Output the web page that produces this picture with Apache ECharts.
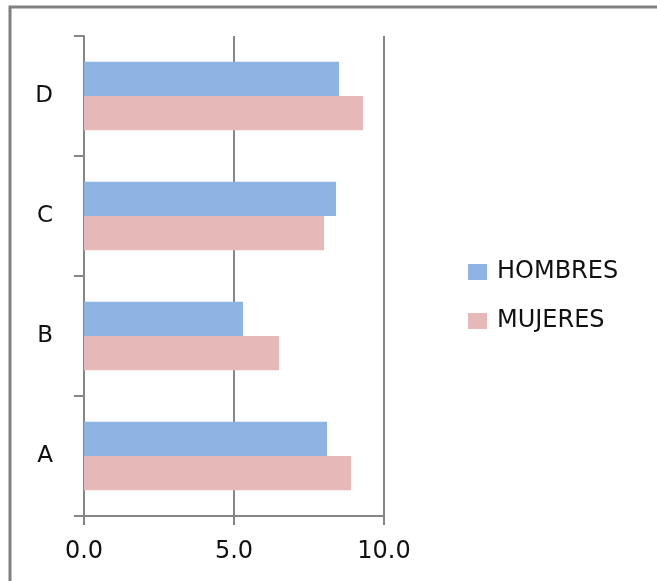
<!DOCTYPE html>
<html>
<head>
<meta charset="utf-8">
<script src="https://cdn.jsdelivr.net/npm/echarts@6/dist/echarts.min.js"></script>
<style>
html,body{margin:0;padding:0;background:#fff;}
#chart{width:657px;height:581px;}
</style>
</head>
<body>
<div id="chart"></div>
<script>
var categories = ['A', 'B', 'C', 'D'];
var hombres = [8.1, 5.3, 8.4, 8.5];
var mujeres = [8.9, 6.5, 8.0, 9.3];
var xTicks = [0, 5, 10];

var chart = echarts.init(document.getElementById('chart'), null, {renderer: 'canvas'});
var font = 'DejaVu Sans';
var option = {
  animation: false,
  backgroundColor: '#ffffff',
  graphic: [{
    type: 'rect',
    shape: {x: 10, y: 7, width: 700, height: 620},
    style: {fill: 'none', stroke: '#808080', lineWidth: 3},
    silent: true
  }],
  grid: {left: 84, right: 273, top: 36, bottom: 65, containLabel: false},
  legend: {
    orient: 'vertical',
    left: 463,
    top: 255,
    itemWidth: 19,
    itemHeight: 16,
    itemGap: 25,
    icon: 'rect',
    textStyle: {fontFamily: font, fontSize: 24, color: '#111111', padding: [0, 0, 0, 5]},
    data: ['HOMBRES', 'MUJERES']
  },
  xAxis: {
    type: 'value',
    min: xTicks[0],
    max: xTicks[xTicks.length - 1],
    interval: 5,
    axisLine: {show: true, lineStyle: {color: '#868686', width: 2}},
    axisTick: {show: true, length: 9, lineStyle: {color: '#868686', width: 2}},
    splitLine: {show: true, lineStyle: {color: '#868686', width: 2}},
    axisLabel: {
      fontFamily: font, fontSize: 24, color: '#111111', margin: 24,
      formatter: function (v) { return v.toFixed(1); }
    }
  },
  yAxis: {
    type: 'category',
    data: categories,
    axisLine: {show: true, lineStyle: {color: '#868686', width: 2}},
    axisTick: {show: true, length: 10, lineStyle: {color: '#868686', width: 2}},
    axisLabel: {fontFamily: font, fontSize: 23, color: '#111111', margin: 31, lineHeight: 28, padding: [4, 0, 0, 0]},
    splitLine: {show: false}
  },
  series: [
    {
      name: 'HOMBRES', type: 'bar', data: hombres,
      itemStyle: {color: '#8EB4E3'},
      barGap: '0%', barCategoryGap: '43%', z: 3
    },
    {
      name: 'MUJERES', type: 'bar', data: mujeres,
      itemStyle: {color: '#E6B9B8'},
      barGap: '0%', barCategoryGap: '43%', z: 3
    }
  ]
};
chart.setOption(option);
</script>
</body>
</html>
